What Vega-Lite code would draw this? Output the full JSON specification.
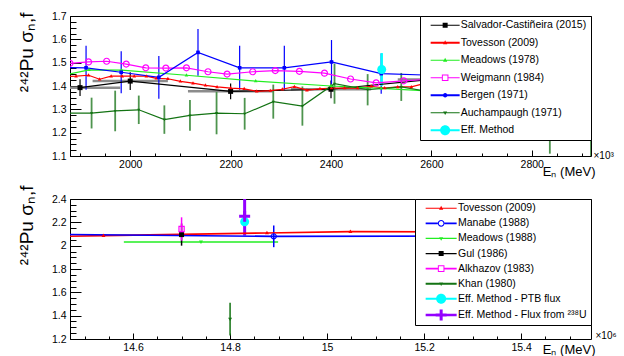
{
  "$schema": "https://vega.github.io/schema/vega-lite/v6.json",
  "padding": {"left": 16, "top": 10, "right": 0, "bottom": 0},
  "autosize": {"type": "pad"},
  "spacing": 43,
  "bounds": "flush",
  "resolve": {"scale": {"color": "independent", "shape": "independent"}, "legend": {"color": "independent", "shape": "independent"}},
  "config": {
    "font": "Liberation Sans",
    "view": {"stroke": "#000000", "strokeWidth": 1},
    "axis": {"domain": false, "grid": false, "labelFont": "Liberation Sans", "labelFontSize": 10.5, "labelColor": "#000000", "tickColor": "#000000", "tickWidth": 1, "titleFont": "Liberation Sans", "titleColor": "#000000", "titleFontWeight": "normal", "zindex": 1, "labelFlush": false, "labelOverlap": false}
  },
  "vconcat": [
    {
      "width": 521,
      "height": 140,
      "data": {"values": [
        {"s": "Salvador-Castiñeira (2015)", "x": 1900, "y": 1.393, "ey": 0.036, "ex": 80},
        {"s": "Salvador-Castiñeira (2015)", "x": 2000, "y": 1.421, "ey": 0.038, "ex": 75},
        {"s": "Salvador-Castiñeira (2015)", "x": 2200, "y": 1.377, "ey": 0.034, "ex": 85},
        {"s": "Salvador-Castiñeira (2015)", "x": 2400, "y": 1.386, "ey": 0.038, "ex": 80},
        {"s": "Salvador-Castiñeira (2015)", "x": 2600, "y": 1.428, "ey": 0.04, "ex": 67},
        {"s": "Salvador-Castiñeira (2015)", "x": 2800, "y": 1.43, "ey": 0.04, "ex": 67},
        {"s": "Tovesson (2009)", "x": 1870, "y": 1.44},
        {"s": "Tovesson (2009)", "x": 1892, "y": 1.442},
        {"s": "Tovesson (2009)", "x": 1917, "y": 1.446},
        {"s": "Tovesson (2009)", "x": 1939, "y": 1.429},
        {"s": "Tovesson (2009)", "x": 1962, "y": 1.442},
        {"s": "Tovesson (2009)", "x": 1984, "y": 1.442},
        {"s": "Tovesson (2009)", "x": 2008, "y": 1.442},
        {"s": "Tovesson (2009)", "x": 2032, "y": 1.442},
        {"s": "Tovesson (2009)", "x": 2052, "y": 1.433},
        {"s": "Tovesson (2009)", "x": 2075, "y": 1.431},
        {"s": "Tovesson (2009)", "x": 2100, "y": 1.42},
        {"s": "Tovesson (2009)", "x": 2125, "y": 1.412},
        {"s": "Tovesson (2009)", "x": 2150, "y": 1.403},
        {"s": "Tovesson (2009)", "x": 2173, "y": 1.396},
        {"s": "Tovesson (2009)", "x": 2200, "y": 1.391},
        {"s": "Tovesson (2009)", "x": 2227, "y": 1.388},
        {"s": "Tovesson (2009)", "x": 2252, "y": 1.377},
        {"s": "Tovesson (2009)", "x": 2279, "y": 1.38},
        {"s": "Tovesson (2009)", "x": 2303, "y": 1.386},
        {"s": "Tovesson (2009)", "x": 2327, "y": 1.397},
        {"s": "Tovesson (2009)", "x": 2352, "y": 1.382},
        {"s": "Tovesson (2009)", "x": 2378, "y": 1.388},
        {"s": "Tovesson (2009)", "x": 2401, "y": 1.391},
        {"s": "Tovesson (2009)", "x": 2427, "y": 1.391},
        {"s": "Tovesson (2009)", "x": 2453, "y": 1.391},
        {"s": "Tovesson (2009)", "x": 2480, "y": 1.399},
        {"s": "Tovesson (2009)", "x": 2507, "y": 1.391},
        {"s": "Tovesson (2009)", "x": 2533, "y": 1.396},
        {"s": "Tovesson (2009)", "x": 2560, "y": 1.396},
        {"s": "Tovesson (2009)", "x": 2585, "y": 1.41},
        {"s": "Tovesson (2009)", "x": 2650, "y": 1.41},
        {"s": "Tovesson (2009)", "x": 2750, "y": 1.41},
        {"s": "Tovesson (2009)", "x": 2850, "y": 1.41},
        {"s": "Tovesson (2009)", "x": 2930, "y": 1.4},
        {"s": "Meadows (1978)", "x": 1870, "y": 1.448},
        {"s": "Meadows (1978)", "x": 1918, "y": 1.469},
        {"s": "Meadows (1978)", "x": 1983, "y": 1.468},
        {"s": "Meadows (1978)", "x": 2112, "y": 1.446},
        {"s": "Meadows (1978)", "x": 2250, "y": 1.421},
        {"s": "Meadows (1978)", "x": 2400, "y": 1.4},
        {"s": "Meadows (1978)", "x": 2500, "y": 1.39},
        {"s": "Meadows (1978)", "x": 2600, "y": 1.378},
        {"s": "Meadows (1978)", "x": 2930, "y": 1.36},
        {"s": "Weigmann (1984)", "x": 1880, "y": 1.497},
        {"s": "Weigmann (1984)", "x": 1917, "y": 1.503},
        {"s": "Weigmann (1984)", "x": 1953, "y": 1.506},
        {"s": "Weigmann (1984)", "x": 1992, "y": 1.494},
        {"s": "Weigmann (1984)", "x": 2031, "y": 1.478},
        {"s": "Weigmann (1984)", "x": 2071, "y": 1.477},
        {"s": "Weigmann (1984)", "x": 2112, "y": 1.478},
        {"s": "Weigmann (1984)", "x": 2155, "y": 1.461},
        {"s": "Weigmann (1984)", "x": 2193, "y": 1.451},
        {"s": "Weigmann (1984)", "x": 2244, "y": 1.461},
        {"s": "Weigmann (1984)", "x": 2289, "y": 1.466},
        {"s": "Weigmann (1984)", "x": 2337, "y": 1.463},
        {"s": "Weigmann (1984)", "x": 2387, "y": 1.455},
        {"s": "Weigmann (1984)", "x": 2439, "y": 1.43},
        {"s": "Weigmann (1984)", "x": 2490, "y": 1.413},
        {"s": "Weigmann (1984)", "x": 2545, "y": 1.422},
        {"s": "Weigmann (1984)", "x": 2600, "y": 1.43},
        {"s": "Weigmann (1984)", "x": 2700, "y": 1.44},
        {"s": "Weigmann (1984)", "x": 2800, "y": 1.44},
        {"s": "Weigmann (1984)", "x": 2900, "y": 1.44},
        {"s": "Bergen (1971)", "x": 1850, "y": 1.48, "ey": 0.09},
        {"s": "Bergen (1971)", "x": 1912, "y": 1.478, "ey": 0.094},
        {"s": "Bergen (1971)", "x": 1982, "y": 1.459, "ey": 0.09},
        {"s": "Bergen (1971)", "x": 2057, "y": 1.437, "ey": 0.092},
        {"s": "Bergen (1971)", "x": 2135, "y": 1.544, "ey": 0.1},
        {"s": "Bergen (1971)", "x": 2218, "y": 1.478, "ey": 0.094},
        {"s": "Bergen (1971)", "x": 2307, "y": 1.478, "ey": 0.094},
        {"s": "Bergen (1971)", "x": 2401, "y": 1.503, "ey": 0.094},
        {"s": "Bergen (1971)", "x": 2500, "y": 1.453, "ey": 0.086},
        {"s": "Bergen (1971)", "x": 2600, "y": 1.446, "ey": 0.09},
        {"s": "Bergen (1971)", "x": 2750, "y": 1.45, "ey": 0.09},
        {"s": "Bergen (1971)", "x": 2900, "y": 1.45, "ey": 0.09},
        {"s": "Auchampaugh (1971)", "x": 1870, "y": 1.284, "ey": 0.07},
        {"s": "Auchampaugh (1971)", "x": 1923, "y": 1.284, "ey": 0.066},
        {"s": "Auchampaugh (1971)", "x": 1970, "y": 1.293, "ey": 0.087},
        {"s": "Auchampaugh (1971)", "x": 2017, "y": 1.298, "ey": 0.061},
        {"s": "Auchampaugh (1971)", "x": 2068, "y": 1.256, "ey": 0.061},
        {"s": "Auchampaugh (1971)", "x": 2119, "y": 1.274, "ey": 0.066},
        {"s": "Auchampaugh (1971)", "x": 2172, "y": 1.284, "ey": 0.091},
        {"s": "Auchampaugh (1971)", "x": 2228, "y": 1.281, "ey": 0.068},
        {"s": "Auchampaugh (1971)", "x": 2285, "y": 1.333, "ey": 0.073},
        {"s": "Auchampaugh (1971)", "x": 2343, "y": 1.314, "ey": 0.084},
        {"s": "Auchampaugh (1971)", "x": 2407, "y": 1.41, "ey": 0.086},
        {"s": "Auchampaugh (1971)", "x": 2473, "y": 1.384, "ey": 0.067},
        {"s": "Auchampaugh (1971)", "x": 2540, "y": 1.396, "ey": 0.06},
        {"s": "Auchampaugh (1971)", "x": 2610, "y": 1.37, "ey": 0.07},
        {"s": "Auchampaugh (1971)", "x": 2700, "y": 1.33, "ey": 0.1},
        {"s": "Auchampaugh (1971)", "x": 2770, "y": 1.3, "ey": 0.1},
        {"s": "Auchampaugh (1971)", "x": 2836, "y": 1.24, "ey": 0.13},
        {"s": "Auchampaugh (1971)", "x": 2918, "y": 1.26, "ey": 0.17},
        {"s": "Eff. Method", "x": 2501, "y": 1.471, "ey": 0.07}
      ]},
      "resolve": {"axis": {"x": "independent", "y": "independent"}},
      "layer": [
        {
          "mark": {"type": "point", "filled": true, "size": 4, "opacity": 0, "clip": true},
          "encoding": {
            "x": {"field": "x", "type": "quantitative", "scale": {"domain": [1880, 2918], "nice": false, "zero": false},
              "axis": {"orient": "bottom", "values": [1900, 1950, 2000, 2050, 2100, 2150, 2200, 2250, 2300, 2350, 2400, 2450, 2500, 2550, 2600, 2650, 2700, 2750, 2800, 2850, 2900], "labels": false, "tickSize": -3, "title": "×10³", "titleAnchor": "end", "titleAlign": "left", "titleX": 523, "titleY": -1, "titleBaseline": "middle", "titleFontSize": 10}},
            "y": {"field": "y", "type": "quantitative", "scale": {"domain": [1.1, 1.7], "nice": false, "zero": false},
              "axis": {"orient": "left", "values": [1.1, 1.125, 1.15, 1.175, 1.2, 1.225, 1.25, 1.275, 1.3, 1.325, 1.35, 1.375, 1.4, 1.425, 1.45, 1.475, 1.5, 1.525, 1.55, 1.575, 1.6, 1.625, 1.65, 1.675, 1.7], "labels": false, "tickSize": -6, "title": null}},
            "color": {"field": "s", "type": "nominal",
              "scale": {"domain": ["Salvador-Castiñeira (2015)", "Tovesson (2009)", "Meadows (1978)", "Weigmann (1984)", "Bergen (1971)", "Auchampaugh (1971)", "Eff. Method"], "range": ["#000000", "#ff0000", "#22ee22", "#ff00ff", "#0000ff", "#137313", "#00ffff"]},
              "legend": {"orient": "top-right", "offset": 0, "title": null, "fillColor": "#ffffff", "strokeColor": "#000000", "padding": 4, "rowPadding": 6.5, "labelFontSize": 10.5, "labelFont": "Liberation Sans", "labelColor": "#000000", "symbolSize": 4, "symbolStrokeWidth": 0, "symbolOpacity": 1, "labelOffset": 26.2, "labelLimit": 300, "zindex": 1}},
            "shape": {"field": "s", "type": "nominal",
              "scale": {"domain": ["Salvador-Castiñeira (2015)", "Tovesson (2009)", "Meadows (1978)", "Weigmann (1984)", "Bergen (1971)", "Auchampaugh (1971)", "Eff. Method"],
                "range": [
                  "M1.4,-0.6H30.4V0.6H1.4ZM13.4,-2.5H18.4V2.5H13.4Z",
                  "M1.4,-0.9H30.4V0.9H1.4ZM15.9,-2.4L18,1.4H13.8Z",
                  "M1.4,-0.6H30.4V0.6H1.4ZM15.9,-2.4L18,1.4H13.8Z",
                  "M1.4,-0.6H12.6V0.6H1.4ZM19.2,-0.6H30.4V0.6H19.2ZM12.6,-3.3H19.2V3.3H12.6ZM13.6,-2.3V2.3H18.2V-2.3Z",
                  "M1.4,-0.9H30.4V0.9H1.4ZM18.2,0A2.3,2.3 0 1,1 13.6,0A2.3,2.3 0 1,1 18.2,0Z",
                  "M1.4,-0.6H30.4V0.6H1.4ZM15.9,2.2L13.9,-1.3H17.9Z",
                  "M1.4,-0.9H30.4V0.9H1.4ZM20.9,0A5,5 0 1,1 10.9,0A5,5 0 1,1 20.9,0Z"
                ]}}
          }
        },
        {
          "transform": [{"filter": "datum.ex > 0"}],
          "mark": {"type": "errorbar", "thickness": 2.5, "color": "#8c8c8c", "clip": true},
          "encoding": {
            "x": {"field": "x", "type": "quantitative", "axis": null},
            "xError": {"field": "ex"},
            "y": {"field": "y", "type": "quantitative", "axis": null}
          }
        },
        {
          "transform": [{"filter": "datum.ey > 0 && datum.s != 'Eff. Method' && datum.s != 'Auchampaugh (1971)'"}],
          "mark": {"type": "errorbar", "thickness": 1.2, "clip": true},
          "encoding": {
            "x": {"field": "x", "type": "quantitative", "axis": null},
            "y": {"field": "y", "type": "quantitative", "axis": null},
            "yError": {"field": "ey"},
            "color": {"field": "s", "type": "nominal"}
          }
        },
        {
          "transform": [{"filter": "datum.s == 'Auchampaugh (1971)'"}],
          "mark": {"type": "errorbar", "thickness": 1.8, "color": "#4e944e", "clip": true},
          "encoding": {
            "x": {"field": "x", "type": "quantitative", "axis": null},
            "y": {"field": "y", "type": "quantitative", "axis": null},
            "yError": {"field": "ey"}
          }
        },
        {
          "transform": [{"filter": "datum.s == 'Eff. Method'"}],
          "mark": {"type": "errorbar", "thickness": 2.5, "clip": true},
          "encoding": {
            "x": {"field": "x", "type": "quantitative", "axis": null},
            "y": {"field": "y", "type": "quantitative", "axis": null},
            "yError": {"field": "ey"},
            "color": {"field": "s", "type": "nominal"}
          }
        },
        {
          "mark": {"type": "line", "strokeWidth": 1.2, "clip": true},
          "encoding": {
            "x": {"field": "x", "type": "quantitative",
              "axis": {"orient": "bottom", "values": [2000, 2200, 2400, 2600, 2800], "format": "d", "tickSize": -6, "labelPadding": 9.5, "title": "Eₙ (MeV)", "titleAnchor": "end", "titleAlign": "right", "titleX": 525, "titleY": 19, "titleBaseline": "alphabetic", "titleFontSize": 13}},
            "y": {"field": "y", "type": "quantitative",
              "axis": {"orient": "left", "values": [1.1, 1.2, 1.3, 1.4, 1.5, 1.6, 1.7], "format": ".1f", "tickSize": -11, "labelPadding": 15, "title": "²⁴²Pu σₙ,f", "titleAnchor": "end", "titleAlign": "right", "titleAngle": -90, "titleX": -38, "titleY": -4, "titleBaseline": "alphabetic", "titleFontSize": 19}},
            "color": {"field": "s", "type": "nominal"}
          }
        },
        {
          "transform": [{"filter": "datum.s == 'Salvador-Castiñeira (2015)'"}],
          "mark": {"type": "point", "shape": "M-2.5,-2.5H2.5V2.5H-2.5Z", "filled": true, "size": 4, "opacity": 1, "clip": true},
          "encoding": {"x": {"field": "x", "type": "quantitative", "axis": null}, "y": {"field": "y", "type": "quantitative", "axis": null}, "color": {"field": "s", "type": "nominal"}}
        },
        {
          "transform": [{"filter": "datum.s == 'Tovesson (2009)' || datum.s == 'Meadows (1978)'"}],
          "mark": {"type": "point", "shape": "M0,-2L1.8,1.2H-1.8Z", "filled": true, "size": 4, "opacity": 1, "clip": true},
          "encoding": {"x": {"field": "x", "type": "quantitative", "axis": null}, "y": {"field": "y", "type": "quantitative", "axis": null}, "color": {"field": "s", "type": "nominal"}}
        },
        {
          "transform": [{"filter": "datum.s == 'Weigmann (1984)'"}],
          "mark": {"type": "point", "shape": "M3.6,0A3.6,3.6 0 1,1 -3.6,0A3.6,3.6 0 1,1 3.6,0ZM2.4,0A2.4,2.4 0 1,0 -2.4,0A2.4,2.4 0 1,0 2.4,0Z", "filled": true, "size": 4, "opacity": 1, "clip": true},
          "encoding": {"x": {"field": "x", "type": "quantitative", "axis": null}, "y": {"field": "y", "type": "quantitative", "axis": null}, "color": {"field": "s", "type": "nominal"}}
        },
        {
          "transform": [{"filter": "datum.s == 'Bergen (1971)'"}],
          "mark": {"type": "point", "shape": "M-1.8,-1.8H1.8V1.8H-1.8Z", "filled": true, "size": 4, "opacity": 1, "clip": true},
          "encoding": {"x": {"field": "x", "type": "quantitative", "axis": null}, "y": {"field": "y", "type": "quantitative", "axis": null}, "color": {"field": "s", "type": "nominal"}}
        },
        {
          "transform": [{"filter": "datum.s == 'Auchampaugh (1971)'"}],
          "mark": {"type": "point", "shape": "M0,1.6L-1.5,-1H1.5Z", "filled": true, "size": 4, "opacity": 1, "clip": true},
          "encoding": {"x": {"field": "x", "type": "quantitative", "axis": null}, "y": {"field": "y", "type": "quantitative", "axis": null}, "color": {"field": "s", "type": "nominal"}}
        },
        {
          "transform": [{"filter": "datum.s == 'Eff. Method'"}],
          "mark": {"type": "point", "shape": "M4.5,0A4.5,4.5 0 1,1 -4.5,0A4.5,4.5 0 1,1 4.5,0Z", "filled": true, "size": 4, "opacity": 1, "clip": true},
          "encoding": {"x": {"field": "x", "type": "quantitative", "axis": null}, "y": {"field": "y", "type": "quantitative", "axis": null}, "color": {"field": "s", "type": "nominal"}}
        }
      ]
    },
    {
      "width": 521,
      "height": 140,
      "data": {"values": [
        {"s": "Tovesson (2009)", "x": 14.4, "y": 2.075},
        {"s": "Tovesson (2009)", "x": 14.539, "y": 2.086},
        {"s": "Tovesson (2009)", "x": 14.876, "y": 2.109},
        {"s": "Tovesson (2009)", "x": 15.048, "y": 2.12},
        {"s": "Tovesson (2009)", "x": 15.6, "y": 2.115},
        {"s": "Manabe (1988)", "x": 14.2, "y": 2.105},
        {"s": "Manabe (1988)", "x": 14.89, "y": 2.08, "ey": 0.093},
        {"s": "Manabe (1988)", "x": 15.9, "y": 2.085},
        {"s": "Meadows (1988)", "x": 14.74, "y": 2.032, "ex": 0.159},
        {"s": "Gul (1986)", "x": 14.7, "y": 2.095, "ey": 0.095},
        {"s": "Alkhazov (1983)", "x": 14.7, "y": 2.143, "ey": 0.1},
        {"s": "Khan (1980)", "x": 14.8, "y": 1.371, "ey": 0.14},
        {"s": "Eff. Method - PTB flux", "x": 14.83, "y": 2.206},
        {"s": "Eff. Method - Flux from ²³⁸U", "x": 14.83, "y": 2.252, "ey": 0.165}
      ]},
      "resolve": {"axis": {"x": "independent", "y": "independent"}},
      "layer": [
        {
          "mark": {"type": "point", "filled": true, "size": 4, "opacity": 0, "clip": true},
          "encoding": {
            "x": {"field": "x", "type": "quantitative", "scale": {"domain": [14.47, 15.544], "nice": false, "zero": false},
              "axis": {"orient": "bottom", "values": [14.5, 14.55, 14.6, 14.65, 14.7, 14.75, 14.8, 14.85, 14.9, 14.95, 15, 15.05, 15.1, 15.15, 15.2, 15.25, 15.3, 15.35, 15.4, 15.45, 15.5], "labels": false, "tickSize": -3, "title": "×10⁶", "titleAnchor": "end", "titleAlign": "left", "titleX": 525, "titleY": -4, "titleBaseline": "middle", "titleFontSize": 10}},
            "y": {"field": "y", "type": "quantitative", "scale": {"domain": [1.2, 2.4], "nice": false, "zero": false},
              "axis": {"orient": "left", "values": [1.2, 1.25, 1.3, 1.35, 1.4, 1.45, 1.5, 1.55, 1.6, 1.65, 1.7, 1.75, 1.8, 1.85, 1.9, 1.95, 2, 2.05, 2.1, 2.15, 2.2, 2.25, 2.3, 2.35, 2.4], "labels": false, "tickSize": -6, "title": null}},
            "color": {"field": "s", "type": "nominal",
              "scale": {"domain": ["Tovesson (2009)", "Manabe (1988)", "Meadows (1988)", "Gul (1986)", "Alkhazov (1983)", "Khan (1980)", "Eff. Method - PTB flux", "Eff. Method - Flux from ²³⁸U"], "range": ["#ff0000", "#0000ff", "#22ee22", "#000000", "#ff00ff", "#137313", "#00ffff", "#9400ff"]},
              "legend": {"orient": "top-right", "offset": 0, "title": null, "fillColor": "#ffffff", "strokeColor": "#000000", "padding": 4, "rowPadding": 4.1, "labelFontSize": 10.5, "labelFont": "Liberation Sans", "labelColor": "#000000", "symbolSize": 4, "symbolStrokeWidth": 0, "symbolOpacity": 1, "labelOffset": 28.5, "labelLimit": 300, "zindex": 1}},
            "shape": {"field": "s", "type": "nominal",
              "scale": {"domain": ["Tovesson (2009)", "Manabe (1988)", "Meadows (1988)", "Gul (1986)", "Alkhazov (1983)", "Khan (1980)", "Eff. Method - PTB flux", "Eff. Method - Flux from ²³⁸U"],
                "range": [
                  "M1.4,-0.6H32.4V0.6H1.4ZM16.9,-2.4L19,1.4H14.8Z",
                  "M1.4,-0.8H13.5V0.8H1.4ZM20.3,-0.8H32.4V0.8H20.3ZM20.3,0A3.4,3.4 0 1,1 13.5,0A3.4,3.4 0 1,1 20.3,0ZM19.2,0A2.3,2.3 0 1,0 14.6,0A2.3,2.3 0 1,0 19.2,0Z",
                  "M1.4,-0.6H32.4V0.6H1.4ZM16.9,2.2L14.9,-1.3H18.9Z",
                  "M1.4,-0.6H32.4V0.6H1.4ZM14.4,-2.5H19.4V2.5H14.4Z",
                  "M1.4,-0.9H13.6V0.9H1.4ZM20.2,-0.9H32.4V0.9H20.2ZM13.6,-3.3H20.2V3.3H13.6ZM14.6,-2.3V2.3H19.2V-2.3Z",
                  "M1.4,-0.9H32.4V0.9H1.4ZM16.9,2.2L14.9,-1.3H18.9Z",
                  "M1.4,-1H32.4V1H1.4ZM21.9,0A5,5 0 1,1 11.9,0A5,5 0 1,1 21.9,0Z",
                  "M1.4,-1.2H32.4V1.2H1.4ZM15.4,-5.5H18.4V-1.5H22.4V1.5H18.4V5.5H15.4V1.5H11.4V-1.5H15.4Z"
                ]}}
          }
        },
        {
          "transform": [{"filter": "datum.ex > 0"}],
          "mark": {"type": "errorbar", "thickness": 1.5, "clip": true},
          "encoding": {
            "x": {"field": "x", "type": "quantitative", "axis": null},
            "xError": {"field": "ex"},
            "y": {"field": "y", "type": "quantitative", "axis": null},
            "color": {"field": "s", "type": "nominal"}
          }
        },
        {
          "transform": [{"filter": "datum.ey > 0 && datum.s != 'Eff. Method - Flux from ²³⁸U'"}],
          "mark": {"type": "errorbar", "thickness": 1.5, "clip": true},
          "encoding": {
            "x": {"field": "x", "type": "quantitative", "axis": null},
            "y": {"field": "y", "type": "quantitative", "axis": null},
            "yError": {"field": "ey"},
            "color": {"field": "s", "type": "nominal"}
          }
        },
        {
          "transform": [{"filter": "datum.s == 'Eff. Method - Flux from ²³⁸U'"}],
          "mark": {"type": "errorbar", "thickness": 3, "clip": true},
          "encoding": {
            "x": {"field": "x", "type": "quantitative", "axis": null},
            "y": {"field": "y", "type": "quantitative", "axis": null},
            "yError": {"field": "ey"},
            "color": {"field": "s", "type": "nominal"}
          }
        },
        {
          "mark": {"type": "line", "strokeWidth": 1.6, "clip": true},
          "encoding": {
            "x": {"field": "x", "type": "quantitative",
              "axis": {"orient": "bottom", "values": [14.6, 14.8, 15, 15.2, 15.4], "format": "~g", "tickSize": -6, "labelPadding": 9.5, "title": "Eₙ (MeV)", "titleAnchor": "end", "titleAlign": "right", "titleX": 525, "titleY": 14, "titleBaseline": "alphabetic", "titleFontSize": 13}},
            "y": {"field": "y", "type": "quantitative",
              "axis": {"orient": "left", "values": [1.2, 1.4, 1.6, 1.8, 2, 2.2, 2.4], "format": "~g", "tickSize": -11, "labelPadding": 15, "title": "²⁴²Pu σₙ,f", "titleAnchor": "end", "titleAlign": "right", "titleAngle": -90, "titleX": -38, "titleY": -14, "titleBaseline": "alphabetic", "titleFontSize": 19}},
            "color": {"field": "s", "type": "nominal"}
          }
        },
        {
          "transform": [{"filter": "datum.s == 'Tovesson (2009)'"}],
          "mark": {"type": "point", "shape": "M0,-2.2L2,1.3H-2Z", "filled": true, "size": 4, "opacity": 1, "clip": true},
          "encoding": {"x": {"field": "x", "type": "quantitative", "axis": null}, "y": {"field": "y", "type": "quantitative", "axis": null}, "color": {"field": "s", "type": "nominal"}}
        },
        {
          "transform": [{"filter": "datum.s == 'Manabe (1988)'"}],
          "mark": {"type": "point", "shape": "M3.2,0A3.2,3.2 0 1,1 -3.2,0A3.2,3.2 0 1,1 3.2,0ZM2,0A2,2 0 1,0 -2,0A2,2 0 1,0 2,0Z", "filled": true, "size": 4, "opacity": 1, "clip": true},
          "encoding": {"x": {"field": "x", "type": "quantitative", "axis": null}, "y": {"field": "y", "type": "quantitative", "axis": null}, "color": {"field": "s", "type": "nominal"}}
        },
        {
          "transform": [{"filter": "datum.s == 'Meadows (1988)' || datum.s == 'Khan (1980)'"}],
          "mark": {"type": "point", "shape": "M0,2L-2,-1.4H2Z", "filled": true, "size": 4, "opacity": 1, "clip": true},
          "encoding": {"x": {"field": "x", "type": "quantitative", "axis": null}, "y": {"field": "y", "type": "quantitative", "axis": null}, "color": {"field": "s", "type": "nominal"}}
        },
        {
          "transform": [{"filter": "datum.s == 'Gul (1986)'"}],
          "mark": {"type": "point", "shape": "M-2.5,-2.5H2.5V2.5H-2.5Z", "filled": true, "size": 4, "opacity": 1, "clip": true},
          "encoding": {"x": {"field": "x", "type": "quantitative", "axis": null}, "y": {"field": "y", "type": "quantitative", "axis": null}, "color": {"field": "s", "type": "nominal"}}
        },
        {
          "transform": [{"filter": "datum.s == 'Alkhazov (1983)'"}],
          "mark": {"type": "point", "shape": "M-3.2,-3.2H3.2V3.2H-3.2ZM-2,-2V2H2V-2Z", "filled": true, "size": 4, "opacity": 1, "clip": true},
          "encoding": {"x": {"field": "x", "type": "quantitative", "axis": null}, "y": {"field": "y", "type": "quantitative", "axis": null}, "color": {"field": "s", "type": "nominal"}}
        },
        {
          "transform": [{"filter": "datum.s == 'Eff. Method - PTB flux'"}],
          "mark": {"type": "point", "shape": "M4.5,0A4.5,4.5 0 1,1 -4.5,0A4.5,4.5 0 1,1 4.5,0Z", "filled": true, "size": 4, "opacity": 1, "clip": true},
          "encoding": {"x": {"field": "x", "type": "quantitative", "axis": null}, "y": {"field": "y", "type": "quantitative", "axis": null}, "color": {"field": "s", "type": "nominal"}}
        },
        {
          "transform": [{"filter": "datum.s == 'Eff. Method - Flux from ²³⁸U'"}],
          "mark": {"type": "point", "shape": "M-1.5,-5.5H1.5V-1.5H5.5V1.5H1.5V5.5H-1.5V1.5H-5.5V-1.5H-1.5Z", "filled": true, "size": 4, "opacity": 1, "clip": true},
          "encoding": {"x": {"field": "x", "type": "quantitative", "axis": null}, "y": {"field": "y", "type": "quantitative", "axis": null}, "color": {"field": "s", "type": "nominal"}}
        }
      ]
    }
  ]
}
